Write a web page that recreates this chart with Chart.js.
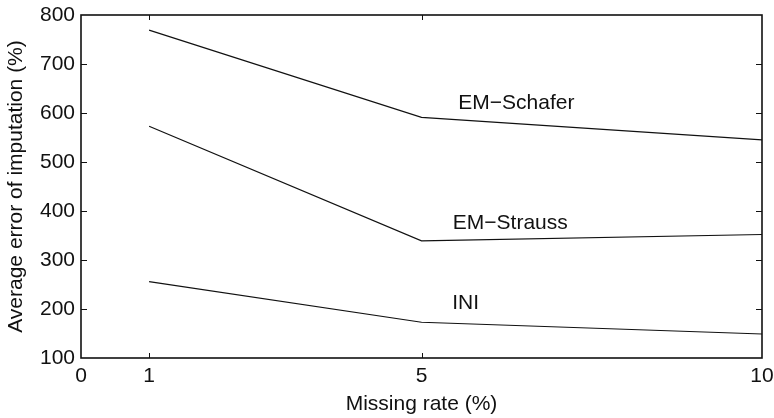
<!DOCTYPE html>
<html>
<head>
<meta charset="utf-8">
<script src="https://cdn.jsdelivr.net/npm/chart.js@4"></script>
<style>
  html, body { margin: 0; padding: 0; background: #fff; }
  #wrap { width: 774px; height: 418px; }
</style>
</head>
<body>
<div id="wrap"><canvas id="chart"></canvas></div>
<script>
// missing rates and imputation errors per method
const missingRates = [1, 5, 10];
const emSchafer = [769, 591, 545];
const emStrauss = [573, 339, 352];
const ini = [256, 173, 149];

const xTicks = [0, 1, 5, 10];
const yTicks = [100, 200, 300, 400, 500, 600, 700, 800];

// line labels placed inside the plot
const lineLabels = [
  { text: "EM\u2212Schafer", x: 5.54, y: 620 },
  { text: "EM\u2212Strauss", x: 5.46, y: 376 },
  { text: "INI", x: 5.45, y: 212 }
];

const FONT = "Liberation Sans, Arial, Helvetica, sans-serif";

function toPoints(values) {
  return values.map((v, i) => ({ x: missingRates[i], y: v }));
}

// box frame, inward ticks and the text labels
const framePlugin = {
  id: "frame",
  afterDatasetsDraw(chart) {
    const ctx = chart.ctx;
    const a = chart.chartArea;
    const xs = chart.scales.x;
    const ys = chart.scales.y;
    ctx.save();
    ctx.strokeStyle = "#111";
    ctx.lineWidth = 1;
    ctx.beginPath();
    xTicks.forEach(t => {
      if (t === 0 || t === 10) return;
      const px = Math.round(xs.getPixelForValue(t)) + 0.5;
      ctx.moveTo(px, a.bottom); ctx.lineTo(px, a.bottom - 5);
      ctx.moveTo(px, a.top); ctx.lineTo(px, a.top + 5);
    });
    yTicks.forEach(t => {
      if (t === 100 || t === 800) return;
      const py = Math.round(ys.getPixelForValue(t)) + 0.5;
      ctx.moveTo(a.left, py); ctx.lineTo(a.left + 6, py);
      ctx.moveTo(a.right, py); ctx.lineTo(a.right - 6, py);
    });
    ctx.stroke();
    ctx.lineWidth = 1.6;
    ctx.strokeRect(a.left, a.top, a.right - a.left, a.bottom - a.top);

    ctx.fillStyle = "#111";
    ctx.font = "21px " + FONT;
    ctx.textAlign = "left";
    ctx.textBaseline = "middle";
    lineLabels.forEach(l => {
      ctx.fillText(l.text, xs.getPixelForValue(l.x), ys.getPixelForValue(l.y));
    });
    ctx.restore();
  }
};

function lineSet(label, values) {
  return {
    label: label,
    data: toPoints(values),
    borderColor: "#111",
    borderWidth: 1.2,
    pointRadius: 0,
    tension: 0,
    fill: false
  };
}

new Chart(document.getElementById("chart"), {
  type: "line",
  data: {
    datasets: [
      lineSet("EM-Schafer", emSchafer),
      lineSet("EM-Strauss", emStrauss),
      lineSet("INI", ini)
    ]
  },
  options: {
    responsive: true,
    maintainAspectRatio: false,
    animation: false,
    layout: { autoPadding: false, padding: { top: 15, right: 12, bottom: 0, left: 0 } },
    plugins: {
      legend: { display: false },
      tooltip: { enabled: false }
    },
    scales: {
      x: {
        type: "linear",
        min: 0,
        max: 10,
        afterBuildTicks: s => { s.ticks = xTicks.map(v => ({ value: v })); },
        afterFit: s => { s.height = 60; s.paddingLeft = 0; s.paddingRight = 0; },
        grid: { display: false, drawTicks: false },
        border: { display: false },
        ticks: { color: "#111", font: { size: 21, family: FONT, lineHeight: 1.1 }, padding: 7, maxRotation: 0 },
        title: { display: true, text: "Missing rate (%)", color: "#111", font: { size: 21, family: FONT, lineHeight: 1.1 }, padding: { top: 0, bottom: 2 } }
      },
      y: {
        min: 100,
        max: 800,
        afterBuildTicks: s => { s.ticks = yTicks.map(v => ({ value: v })); },
        afterFit: s => { s.width = 81; s.paddingTop = 0; s.paddingBottom = 0; },
        grid: { display: false, drawTicks: false },
        border: { display: false },
        ticks: { color: "#111", font: { size: 21, family: FONT }, padding: 6 },
        title: { display: true, text: "Average error of imputation (%)", color: "#111", font: { size: 21, family: FONT, lineHeight: 1.1 }, padding: { top: 5, bottom: 0 } }
      }
    }
  },
  plugins: [framePlugin]
});
</script>
</body>
</html>
